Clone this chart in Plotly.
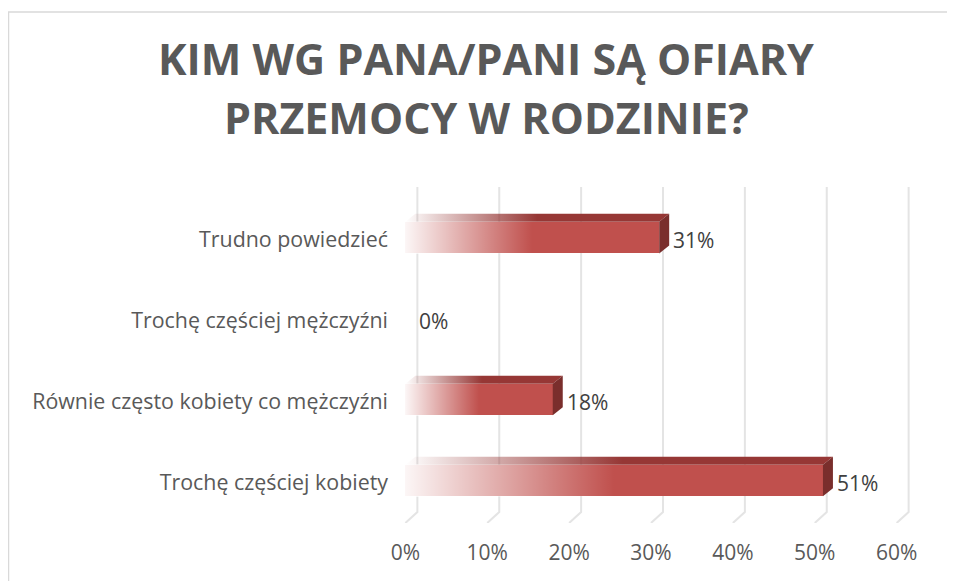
import plotly.graph_objects as go

# ---- data ----
categories = ["Trochę częściej kobiety",
              "Równie często kobiety co mężczyźni",
              "Trochę częściej mężczyźni",
              "Trudno powiedzieć"]
values = [51, 18, 0, 31]
x_ticks = [0, 10, 20, 30, 40, 50, 60]
x_tick_labels = ["0%", "10%", "20%", "30%", "40%", "50%", "60%"]
title_lines = ["KIM WG PANA/PANI SĄ OFIARY", "PRZEMOCY W RODZINIE?"]

# ---- geometry (figure pixel coordinates; page adds an 8px body margin) ----
W, H = 955, 581
ML, MT = 381, 179
pw, ph = 524, 336
MR, MB = W - ML - pw, H - MT - ph
XR = [-2, 62]
YR = [-0.5, 3.65]
xu = pw / (XR[1] - XR[0])
yu = ph / (YR[1] - YR[0])
DX = 10 / xu      # 3D depth (x)
DY = 8 / yu       # 3D depth (y)
GX = 12 / xu      # back-wall offset for gridlines
B0, B1 = -0.17, 0.22  # bar front face relative to category centre

FRONT = "rgb(192,80,77)"
TOP = "150,55,53"
SIDE = "rgb(122,46,44)"
FONT = "Open Sans"


def px2paper_x(p):
    return (p - ML) / pw


def px2paper_y(p):
    return (H - MB - p) / ph


fig = go.Figure()

idx = list(range(len(categories)))

# front faces
fig.add_trace(go.Bar(x=values, y=idx, orientation="h", width=B1 - B0, offset=B0,
                     marker=dict(color=FRONT, line=dict(width=0)),
                     showlegend=False, hoverinfo="skip"))

for i, v in zip(idx, values):
    if v <= 0:
        continue
    y0, y1 = i + B0, i + B1
    # white fade on the front face
    fig.add_trace(go.Scatter(
        x=[-0.25, v, v, -0.25, -0.25], y=[y0 - 0.005, y0 - 0.005, y1 + 0.005, y1 + 0.005, y0 - 0.005],
        mode="none", fill="toself",
        fillgradient=dict(type="horizontal", start=0, stop=v * 0.5,
                          colorscale=[[0, "rgba(255,255,255,0.95)"],
                                      [1, "rgba(255,255,255,0)"]]),
        hoverinfo="skip", showlegend=False))
    # top face
    fig.add_trace(go.Scatter(
        x=[0, v, v + DX, DX, 0], y=[y1, y1, y1 + DY, y1 + DY, y1],
        mode="none", fill="toself",
        fillgradient=dict(type="horizontal", start=0, stop=v * 0.52,
                          colorscale=[[0, f"rgba({TOP},0)"],
                                      [1, f"rgba({TOP},1)"]]),
        hoverinfo="skip", showlegend=False))
    # side face
    fig.add_trace(go.Scatter(
        x=[v, v + DX, v + DX, v, v], y=[y0, y0 + DY, y1 + DY, y1, y0],
        mode="none", fill="toself", fillcolor=SIDE,
        hoverinfo="skip", showlegend=False))

# gridlines on the back wall with floor return (below the bars)
shapes = []
ybend = YR[0] + 11 / yu
for t in x_ticks:
    shapes.append(dict(type="path", xref="x", yref="y",
                       path=f"M {t + GX},{YR[1]} L {t + GX},{ybend} L {t},{YR[0]}",
                       line=dict(color="#e4e4e4", width=2), layer="below"))
# chart border
shapes.append(dict(type="rect", xref="paper", yref="paper",
                   x0=px2paper_x(0.5), x1=px2paper_x(970),
                   y0=px2paper_y(600), y1=px2paper_y(4),
                   line=dict(color="#d9d9d9", width=1.5), fillcolor="rgba(0,0,0,0)",
                   layer="below"))

annotations = []
for i, v in zip(idx, values):
    annotations.append(dict(x=v, y=i, xref="x", yref="y", text=f"{v}%",
                            showarrow=False, xanchor="left", yanchor="middle",
                            xshift=DX * xu + 2,
                            font=dict(family=FONT, size=21, color="#404040")))

title_y = [50, 109]
for line, yp in zip(title_lines, title_y):
    annotations.append(dict(x=px2paper_x(478), y=px2paper_y(yp), xref="paper", yref="paper",
                            text=f"<b>{line}</b>", showarrow=False,
                            xanchor="center", yanchor="middle",
                            font=dict(family=FONT, size=43, color="#595959")))

fig.update_layout(
    width=W, height=H,
    margin=dict(l=ML, r=MR, t=MT, b=MB, pad=0),
    paper_bgcolor="white", plot_bgcolor="white",
    bargap=0,
    annotations=annotations,
    shapes=shapes,
    xaxis=dict(range=XR, tickvals=x_ticks, ticktext=x_tick_labels,
               showgrid=False, zeroline=False, showline=False,
               tickfont=dict(family=FONT, size=21, color="#595959"),
               ticklabelstandoff=15, fixedrange=True),
    yaxis=dict(range=YR, tickvals=idx, ticktext=categories,
               showgrid=False, zeroline=False, showline=False,
               tickfont=dict(family=FONT, size=21.4, color="#595959"),
               fixedrange=True),
)

fig.write_html("out.html")
